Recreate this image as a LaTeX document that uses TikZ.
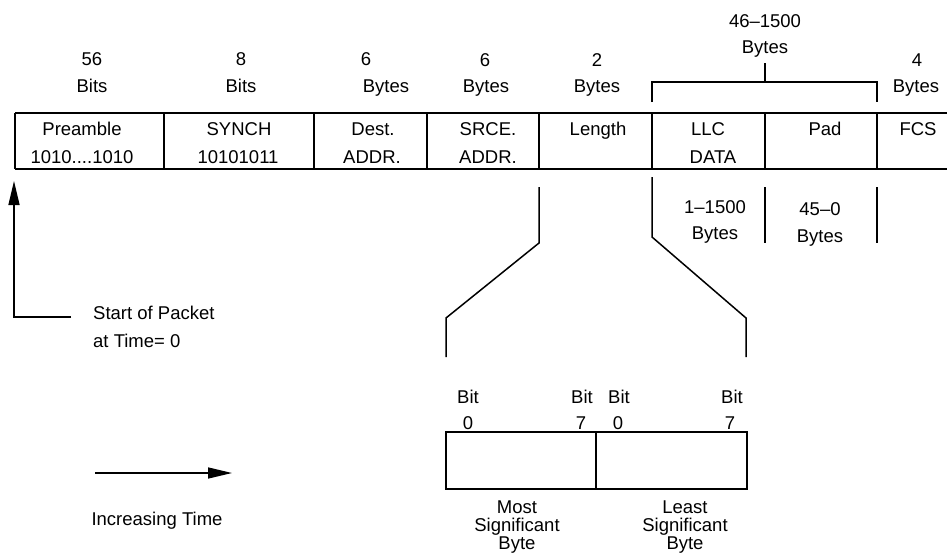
\documentclass[tikz,border=0pt]{standalone}
\usepackage{fontspec}
\setmainfont{Liberation Sans}
\usetikzlibrary{arrows.meta}
\begin{document}
\begin{tikzpicture}[x=1pt,y=-1pt,
  lbl/.style={font=\fontsize{18.5}{20}\selectfont, inner sep=0pt, anchor=base},
  lblw/.style={lbl, anchor=base west},
  frameline/.style={line width=1.9pt},
  conn/.style={line width=1.5pt},
  arr/.style={line width=1.5pt, -{Triangle[length=24pt,width=11pt]}}]
\useasboundingbox (0,0) rectangle (947,554);
% frame
\coordinate (fl) at (15,113); \coordinate (fr) at (947,113);
\coordinate (bl) at (15,169); \coordinate (br) at (947,169);
\draw[frameline] (fl) -- (fr);
\draw[frameline] (bl) -- (br);
\foreach \x/\n in {15/a,164/b,314/c,427/d,539/e,652/f,765/g,877/h}{
  \coordinate (t\n) at (\x,113); \coordinate (u\n) at (\x,169);
  \draw[frameline] (t\n) -- (u\n);
}
% size labels
\node[lbl] (n1) at (92,65.5) {56};   \node[lbl] (m1) at (92,92.5) {Bits};
\node[lbl] (n2) at (241,65.5) {8};   \node[lbl] (m2) at (241,92.5) {Bits};
\node[lbl] (n3) at (366,65.5) {6};   \node[lbl] (m3) at (386,92.5) {Bytes};
\node[lbl] (n4) at (485,66.5) {6};   \node[lbl] (m4) at (486,92.5) {Bytes};
\node[lbl] (n5) at (597,66.5) {2};   \node[lbl] (m5) at (597,92.5) {Bytes};
\node[lbl] (n6) at (765,27.5) {46–1500}; \node[lbl] (m6) at (765,53.5) {Bytes};
\node[lbl] (n7) at (917,66.5) {4};   \node[lbl] (m7) at (916,92.5) {Bytes};
% cell texts
\node[lbl] (c1a) at (82,135.5) {Preamble};  \node[lbl] (c1b) at (82,163.5) {1010....1010};
\node[lbl] (c2a) at (239,135.5) {SYNCH};    \node[lbl] (c2b) at (238,163.5) {10101011};
\node[lbl] (c3a) at (373,135.5) {Dest.};    \node[lbl] (c3b) at (372,163.5) {ADDR.};
\node[lbl] (c4a) at (488,135.5) {SRCE.};    \node[lbl] (c4b) at (488,163.5) {ADDR.};
\node[lbl] (c5a) at (598,135.5) {Length};
\node[lbl] (c6a) at (708,135.5) {LLC};      \node[lbl] (c6b) at (713,163.5) {DATA};
\node[lbl] (c7a) at (825,135.5) {Pad};
\node[lbl] (c8a) at (918,135.5) {FCS};
% bracket
\coordinate (k1) at (652,102); \coordinate (k2) at (652,82);
\coordinate (k3) at (877,82);  \coordinate (k4) at (877,102);
\coordinate (k5) at (765,82);  \coordinate (k6) at (765,63);
\draw[conn] (k1) -- (k2) -- (k3) -- (k4);
\draw[conn] (k5) -- (k6);
% ticks below
\coordinate (p1) at (539,187); \coordinate (p2) at (539,243);
\coordinate (p3) at (446,318); \coordinate (p4) at (446,357);
\draw[conn] (p1) -- (p2) -- (p3) -- (p4);
\coordinate (q1) at (652,177); \coordinate (q2) at (652,237);
\coordinate (q3) at (746,318); \coordinate (q4) at (746,357);
\draw[conn] (q1) -- (q2) -- (q3) -- (q4);
\coordinate (r1) at (765,187); \coordinate (r2) at (765,243);
\coordinate (s1) at (877,187); \coordinate (s2) at (877,243);
\draw[conn] (r1) -- (r2);
\draw[conn] (s1) -- (s2);
\node[lbl] (d1) at (715,213.5) {1–1500}; \node[lbl] (d2) at (715,239.5) {Bytes};
\node[lbl] (e1) at (820,215.5) {45–0};   \node[lbl] (e2) at (820,242.5) {Bytes};
% start of packet
\coordinate (sp1) at (71,317); \coordinate (sp2) at (14,317); \coordinate (sp3) at (14,181);
\draw[arr] (sp1) -- (sp2) -- (sp3);
\node[lblw] (st1) at (93,319.5) {Start of Packet};
\node[lblw] (st2) at (93,347.5) {at Time= 0};
% increasing time
\coordinate (it1) at (95,473); \coordinate (it2) at (232,473);
\draw[arr] (it1) -- (it2);
\node[lbl] (itl) at (157,525.5) {Increasing Time};
% byte box
\draw[frameline] (446,432) rectangle (747,489);
\coordinate (bm1) at (596,432); \coordinate (bm2) at (596,489);
\draw[frameline] (bm1) -- (bm2);
\node[lbl] (b1) at (468,403.5) {Bit}; \node[lbl] (b2) at (582,403.5) {Bit};
\node[lbl] (b3) at (619,403.5) {Bit}; \node[lbl] (b4) at (732,403.5) {Bit};
\node[lbl] (z1) at (468,429.5) {0}; \node[lbl] (z2) at (581,429.5) {7};
\node[lbl] (z3) at (618,429.5) {0}; \node[lbl] (z4) at (730,429.5) {7};
\node[lbl] (ms1) at (517,513) {Most};
\node[lbl] (ms2) at (517,531.5) {Significant};
\node[lbl] (ms3) at (517,549.5) {Byte};
\node[lbl] (ls1) at (685,513) {Least};
\node[lbl] (ls2) at (685,531.5) {Significant};
\node[lbl] (ls3) at (685,549.5) {Byte};
\end{tikzpicture}
\end{document}
